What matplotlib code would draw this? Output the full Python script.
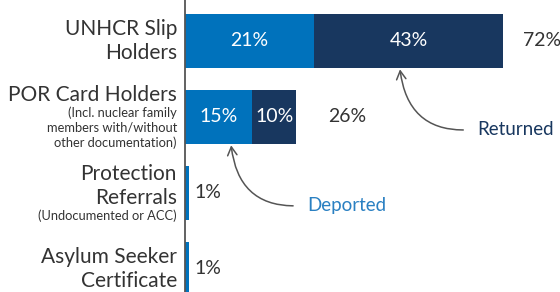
import matplotlib
matplotlib.use("Agg")
import matplotlib.pyplot as plt
from matplotlib.offsetbox import TextArea, VPacker, AnnotationBbox

# data
categories = ["UNHCR Slip\nHolders", "POR Card Holders", "Protection\nReferrals",
              "Asylum Seeker\nCertificate"]
subtitles = ["", "(Incl. nuclear family\nmembers with/without\nother documentation)",
             "(Undocumented or ACC)", ""]
deported = [29.2, 15.2, 1.0, 1.0]
returned = [42.8, 10.0, 0.0, 0.0]
deported_labels = ["21%", "15%", "", ""]
returned_labels = ["43%", "10%", "", ""]
total_labels = ["72%", "26%", "1%", "1%"]

BLUE = "#0072BC"
NAVY = "#18375F"
TEXT = "#333333"
FONT = "Lato"

plt.rcParams["font.family"] = [FONT, "DejaVu Sans"]

fig = plt.figure(figsize=(5.6, 2.92), dpi=100)
ax = fig.add_axes([185 / 560, 0, 1 - 185 / 560, 1])

ypos = list(range(len(categories)))
bar_h = 0.71
ax.barh(ypos, deported, height=bar_h, color=BLUE)
ax.barh(ypos, returned, left=deported, height=bar_h, color=NAVY)

# labels inside the segments
for i in ypos:
    if deported_labels[i]:
        ax.text(deported[i] / 2, i, deported_labels[i], ha="center", va="center",
                color="white", fontsize=14)
    if returned_labels[i]:
        ax.text(deported[i] + returned[i] / 2, i, returned_labels[i], ha="center",
                va="center", color="white", fontsize=14)

# totals to the right of each bar
label_pad_px = [20, 32, 5, 5]
for i in ypos:
    ax.annotate(total_labels[i], xy=(deported[i] + returned[i], i),
                xytext=(label_pad_px[i], 0), textcoords="offset pixels",
                ha="left", va="center", color=TEXT, fontsize=14)

# category labels, with the small notes under them
for i, (main, sub) in enumerate(zip(categories, subtitles)):
    parts = [TextArea(main, textprops=dict(fontsize=15, color=TEXT,
                                           multialignment="right"))]
    if sub:
        parts.append(TextArea(sub, textprops=dict(fontsize=9.3, color=TEXT,
                                                  multialignment="right",
                                                  linespacing=1.25)))
    box = VPacker(children=parts, align="right", pad=0, sep=1)
    ab = AnnotationBbox(box, (0, i), xybox=(-8, 0), xycoords="data",
                        boxcoords="offset pixels", box_alignment=(1, 0.5),
                        frameon=False, pad=0, annotation_clip=False)
    ax.add_artist(ab)

# legend callouts
arrow = dict(arrowstyle="->,head_length=0.45,head_width=0.25", color="#555555",
             lw=1.1, connectionstyle="arc3,rad=-0.5", relpos=(0, 0.5),
             shrinkA=8, shrinkB=1)
ax.annotate("Returned", xy=(48.6, bar_h / 2), xytext=(66.1, 1.16),
            ha="left", va="center", color=NAVY, fontsize=13.5, arrowprops=arrow)
ax.annotate("Deported", xy=(10.4, 1 + bar_h / 2), xytext=(27.6, 2.16),
            ha="left", va="center", color="#2A80C2", fontsize=13.5,
            arrowprops=arrow)

ax.set_xlim(0, 375 / 4.42)
ax.set_ylim(3.303, -0.539)
for side in ["top", "right", "bottom"]:
    ax.spines[side].set_visible(False)
ax.spines["left"].set_color("#555555")
ax.spines["left"].set_linewidth(1.3)
ax.set_xticks([])
ax.set_yticks([])

fig.savefig("out.png", dpi=100)
